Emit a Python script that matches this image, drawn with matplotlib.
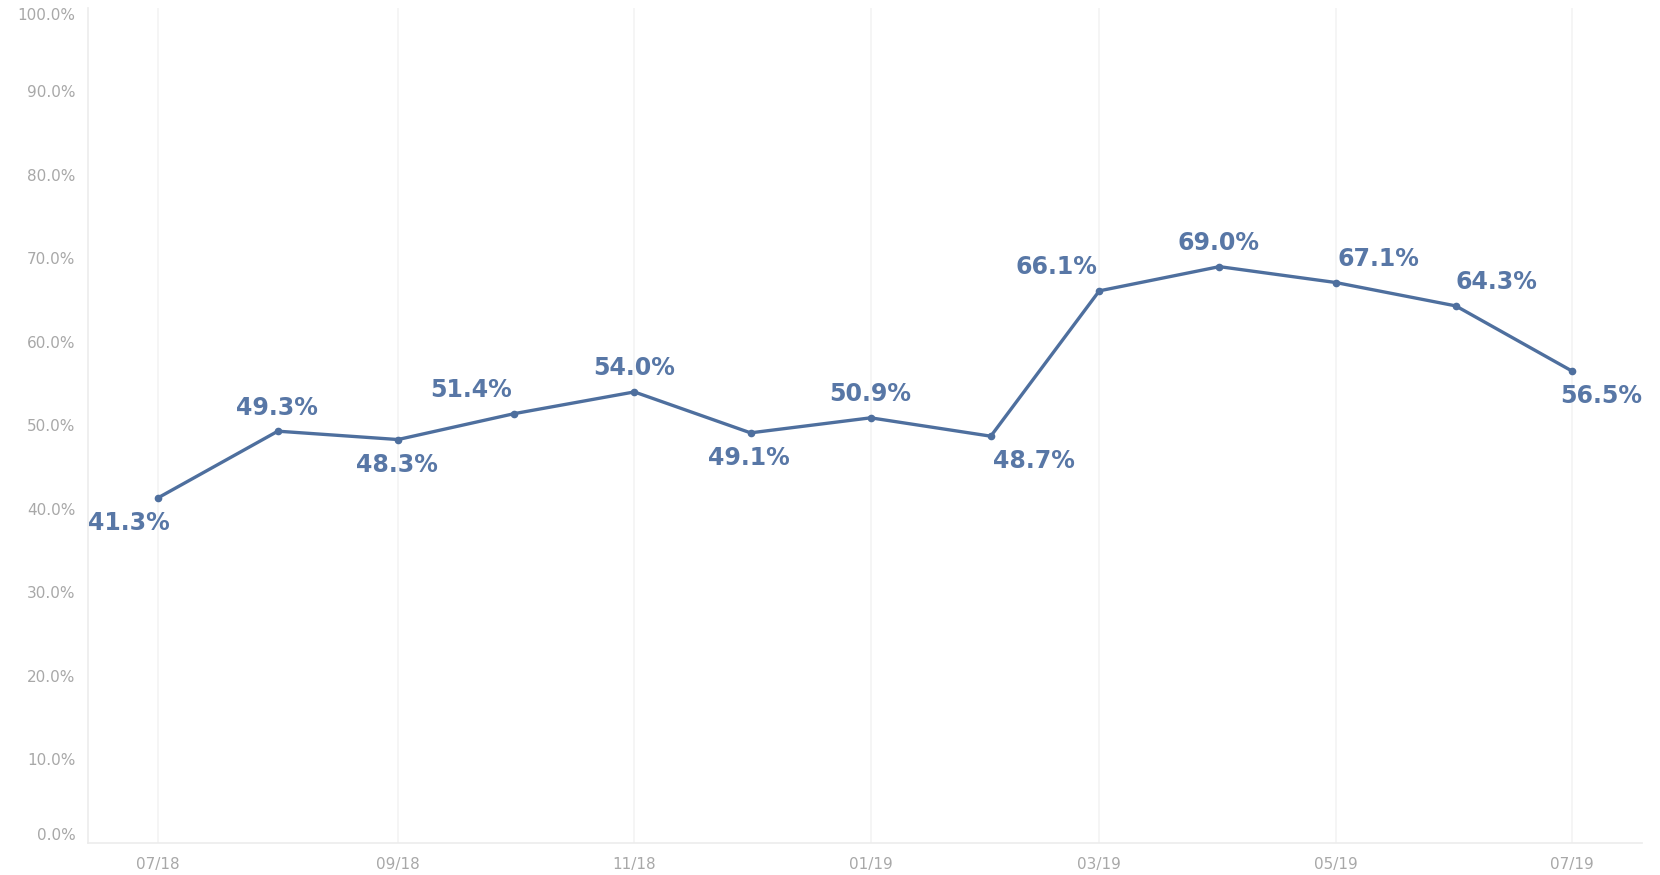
import numpy as np
import matplotlib
matplotlib.use("Agg")
import matplotlib.pyplot as plt
import matplotlib.dates as mdates
import pandas as pd

# monthly share, 07/18 .. 07/19 (continuous date axis)
months = ["2018-07-01", "2018-08-01", "2018-09-01", "2018-10-01", "2018-11-01",
          "2018-12-01", "2019-01-01", "2019-02-01", "2019-03-01", "2019-04-01",
          "2019-05-01", "2019-06-01", "2019-07-01"]
values = [41.3, 49.3, 48.3, 51.4, 54.0, 49.1, 50.9, 48.7, 66.1, 69.0, 67.1, 64.3, 56.5]
y_ticks = [0, 10, 20, 30, 40, 50, 60, 70, 80, 90, 100]

# label placement (points), tableau-like
label_offsets = [(-21, -18), (-1, 17), (-1, -18), (-31, 17), (0, 17), (-1, -18), (0, 17),
                 (31, -18), (-31, 17), (-1, 17), (31, 17), (29, 17), (21, -18)]

line_color = "#4e6f9e"
text_color = "#5877a6"
grid_color = "#f3f3f3"
tick_color = "#a8a8a8"

dates = pd.to_datetime(months)

fig = plt.figure(figsize=(16.6, 8.75), dpi=100)
ax = fig.add_axes([0.053, 0.0366, 0.936, 0.9546])

ax.plot(dates, values, color=line_color, lw=2.4, marker="o", ms=4.5, zorder=3)

for i, v in enumerate(values):
    dx, dy = label_offsets[i]
    ax.annotate(f"{v:.1f}%", (dates[i], v), xytext=(dx, dy), textcoords="offset points",
                ha="center", va="center", fontsize=17, fontweight="bold", color=text_color)

ax.set_xlim(dates[0] - pd.Timedelta(days=18), dates[-1] + pd.Timedelta(days=18))
ax.set_ylim(0, 100)

ax.set_xticks(dates[::2])
ax.xaxis.set_major_formatter(mdates.DateFormatter("%m/%y"))
ax.set_yticks(y_ticks)
ax.set_yticklabels([f"{t:.1f}%" for t in y_ticks])

ax.tick_params(axis="both", length=0, colors=tick_color, labelsize=11)
ax.tick_params(axis="x", pad=10)
ax.tick_params(axis="y", pad=9)

# tableau keeps the end labels inside the axis
ylabels = ax.get_yticklabels()
ylabels[0].set_va("bottom")
ylabels[-1].set_va("top")

ax.grid(True, axis="x", color=grid_color, lw=1.2)
ax.grid(False, axis="y")
ax.set_axisbelow(True)

for side in ["top", "right"]:
    ax.spines[side].set_visible(False)
for side in ["left", "bottom"]:
    ax.spines[side].set_color("#ececec")
    ax.spines[side].set_linewidth(1.2)

fig.savefig("out.png", dpi=100)
